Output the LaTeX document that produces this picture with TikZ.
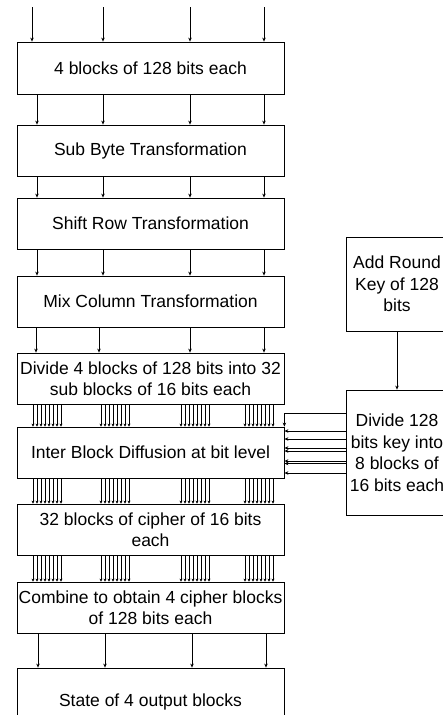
\documentclass[tikz,border=0pt]{standalone}
\usepackage{fontspec}
\setmainfont{Liberation Sans}
\usetikzlibrary{arrows.meta}
\begin{document}
\begin{tikzpicture}[x=1pt,y=-1pt,
  box/.style={draw, line width=0.8pt, minimum width=267pt, inner sep=0pt, align=center, font=\fontsize{17.5}{21.5}\selectfont},
  kbox/.style={draw, line width=0.8pt, minimum width=102pt, inner sep=0pt, align=center, font=\fontsize{17.5}{21.5}\selectfont},
  arr/.style={-{Stealth[length=4pt,width=3.5pt]}, line width=0.7pt},
  barr/.style={-{Stealth[length=3pt,width=3pt]}, line width=0.7pt}]
\useasboundingbox (0,0) rectangle (443,715);
\clip (0,0) rectangle (443,715);
\node[box, minimum height=52pt] (b1) at (150.5,68) {4 blocks of 128 bits each};
\node[box, minimum height=51pt] (b2) at (150.5,150.5) {Sub Byte Transformation};
\node[box, minimum height=51pt] (b3) at (150.5,223.5) {Shift Row Transformation};
\node[box, minimum height=51pt] (b4) at (150.5,301.5) {Mix Column Transformation};
\node[box, minimum height=51pt] (b5) at (150.5,378.5) {Divide 4 blocks of 128 bits into 32\\sub blocks of 16 bits each};
\node[box, minimum height=51pt] (b6) at (150.5,452.5) {Inter Block Diffusion at bit level};
\node[box, minimum height=51pt] (b7) at (150.5,529.5) {32 blocks of cipher of 16 bits\\each};
\node[box, minimum height=51pt] (b8) at (150.5,607.5) {Combine to obtain 4 cipher blocks\\of 128 bits each};
\node[box, minimum height=68pt] (b9) at (150.5,702) {State of 4 output blocks};
\node[kbox, minimum height=94pt] (ar) at (397,284) {Add Round\\Key of 128\\bits};
\node[kbox, minimum height=125pt] (kb) at (397,452.5) {Divide 128\\bits key into\\8 blocks of\\16 bits each};
% input arrows
\foreach \x in {32,103,190,264} {
  \coordinate (in\x) at (\x,7);
  \draw[arr] (in\x) -- (\x,0 |- b1.north);
}
\foreach \x in {37,103,190,264} {
  \draw[arr] (\x,0 |- b1.south) -- (\x,0 |- b2.north);
  \draw[arr] (\x,0 |- b2.south) -- (\x,0 |- b3.north);
  \draw[arr] (\x,0 |- b3.south) -- (\x,0 |- b4.north);
}
\foreach \x in {36,99,190,264}
  \draw[arr] (\x,0 |- b4.south) -- (\x,0 |- b5.north);
\foreach \x in {38,105,192,266}
  \draw[arr] (\x,0 |- b8.south) -- (\x,0 |- b9.north);
% bundles
\foreach \g in {33,101,181,245} {
  \foreach \i in {0,...,7} {
    \pgfmathsetmacro\xx{\g+4*\i}
    \draw[barr] (\xx,0 |- b5.south) -- (\xx,0 |- b6.north);
    \draw[barr] (\xx,0 |- b6.south) -- (\xx,0 |- b7.north);
    \draw[barr] (\xx,0 |- b7.south) -- (\xx,0 |- b8.north);
  }
}
% key side
\draw[arr] (ar.south) -- (kb.north);
\draw[arr] (kb.west |- 0,413) -| (b6.north east);
\foreach \y in {431,439,448,451,461,463.5,473}
  \draw[arr] (kb.west |- 0,\y) -- (b6.east |- 0,\y);
\end{tikzpicture}
\end{document}
